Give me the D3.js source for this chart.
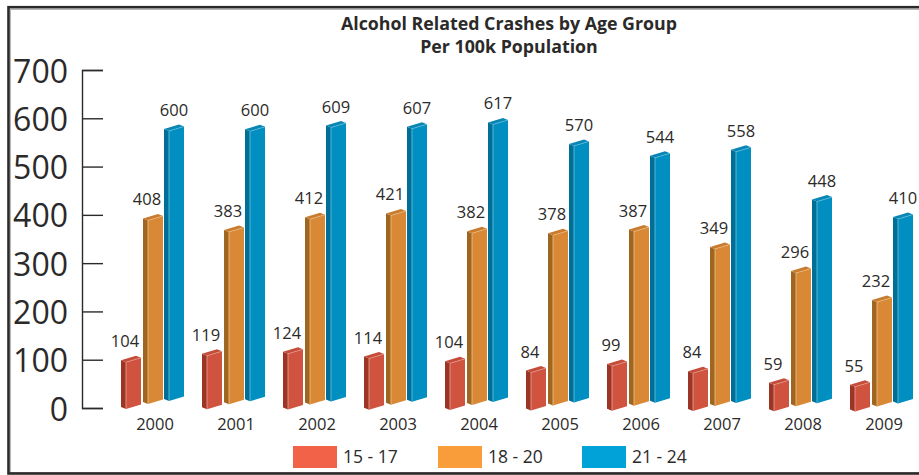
<!DOCTYPE html>
<html><head><meta charset="utf-8">
<script src="https://cdn.jsdelivr.net/npm/d3@7"></script>
<style>html,body{margin:0;background:#fff}svg{display:block}text{font-family:"Open Sans",sans-serif;fill:#2b2a29}</style>
</head><body><div id="c"></div>
<script>
const years=["2000","2001","2002","2003","2004","2005","2006","2007","2008","2009"];
const teen15=[104,119,124,114,104,84,99,84,59,55];
const teen18=[408,383,412,421,382,378,387,349,296,232];
const adult21=[600,600,609,607,617,570,544,558,448,410];
const seriesNames=["15 - 17","18 - 20","21 - 24"];
const yTicks=[0,100,200,300,400,500,600,700];
const titleLines=["Alcohol Related Crashes by Age Group","Per 100k Population"];
const W=919,H=475;
const svg=d3.select("#c").append("svg").attr("width",W).attr("height",H);
const frame="#2b2a29";
svg.append("rect").attr("x",10.5).attr("y",9.5).attr("width",W+10).attr("height",463).attr("fill","#fff").attr("stroke","#b5b5b5").attr("stroke-width",1);
svg.append("rect").attr("x",8.5).attr("y",7.2).attr("width",W+10).attr("height",466.3).attr("fill","none").attr("stroke",frame).attr("stroke-width",2.6);
svg.selectAll(".t").data(titleLines).join("text").attr("x",509).attr("y",(d,i)=>30+i*23).attr("text-anchor","middle").attr("font-size",17.8).attr("font-weight",700).attr("fill","#1a1a1a").text(d=>d);
const yAxisScale=d3.scaleLinear().domain([0,700]).range([408,70]);
const barH=d3.scaleLinear().domain([0,700]).range([0,315]);
const axisG=svg.append("g").attr("transform","translate(82,0)").call(d3.axisRight(yAxisScale).tickValues(yTicks).tickSize(21).tickFormat(""));
axisG.selectAll("path,line").attr("stroke",frame).attr("stroke-width",1.4);
svg.selectAll(".yl").data(yTicks).join("text").attr("x",68).attr("y",d=>yAxisScale(d)+12.5).attr("text-anchor","end").attr("font-size",32).text(d=>d);
const xs=d3.scalePoint().domain(years).range([121,850]);
const series=[
 {vals:teen15,dx:0,base:409,front:"#d0533f",side:"#9c3525",top:"#c44c39",edge:"#e9a598",lx:4,legend:"#f26249",lgx:293,ltx:343},
 {vals:teen18,dx:22,base:404,front:"#d98835",side:"#a0651f",top:"#c97c2d",edge:"#eec48f",lx:4,legend:"#f99d3b",lgx:438,ltx:488},
 {vals:adult21,dx:43,base:401,front:"#008fc0",side:"#006f98",top:"#0a86b4",edge:"#6cc4e2",lx:10,legend:"#00a2d8",lgx:582,ltx:632}
];
const sideW=5,sideRise=2,frontW=15,frontRise=4.5;
const pts=a=>a.map(p=>p.join(",")).join(" ");
series.forEach(s=>{
 const g=svg.append("g");
 s.vals.forEach((v,i)=>{
  const y=years[i],x0=xs(y)+s.dx,drop=i/9*2.5,b=s.base+drop,h=barH(v),xf=x0+sideW,xr=xf+frontW,t=b-h;
  g.append("polygon").attr("points",pts([[x0,b-sideRise],[xf,b],[xf,t],[x0,t-sideRise]])).attr("fill",s.side);
  g.append("polygon").attr("points",pts([[xf,b],[xr,b-frontRise],[xr,t-frontRise],[xf,t]])).attr("fill",s.front);
  g.append("polygon").attr("points",pts([[x0,t-sideRise],[xf,t],[xr,t-frontRise],[xr-sideW,t-frontRise-sideRise]])).attr("fill",s.top);
  g.append("line").attr("x1",xf).attr("x2",xf).attr("y1",b).attr("y2",t).attr("stroke",s.edge).attr("stroke-width",.8);
  g.append("polyline").attr("points",pts([[xf,t],[xr,t-frontRise]])).attr("fill","none").attr("stroke",s.edge).attr("stroke-width",.6);
  g.append("text").attr("x",x0+s.lx).attr("y",t-15).attr("text-anchor","middle").attr("font-size",16.5).text(v);
 });
});
svg.selectAll(".xl").data(years).join("text").attr("x",d=>xs(d)+34).attr("y",430).attr("text-anchor","middle").attr("font-size",16.5).text(d=>d);
series.forEach((s,i)=>{
 svg.append("rect").attr("x",s.lgx).attr("y",446).attr("width",44).attr("height",22).attr("fill",s.legend);
 svg.append("text").attr("x",s.ltx).attr("y",463).attr("font-size",17.5).text(seriesNames[i]);
});
</script></body></html>
